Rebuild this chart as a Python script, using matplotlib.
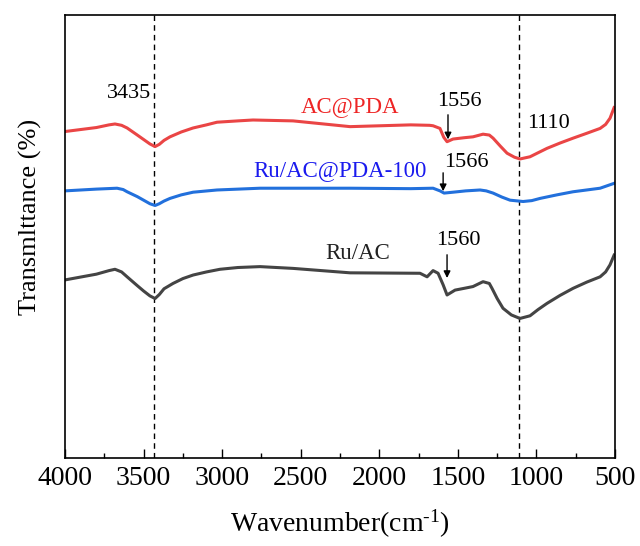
import numpy as np
import matplotlib
matplotlib.use("Agg")
import matplotlib.pyplot as plt
from matplotlib.ticker import MultipleLocator

plt.rcParams['font.family'] = 'serif'
plt.rcParams['font.serif'] = ['Liberation Serif', 'DejaVu Serif']
plt.rcParams['mathtext.fontset'] = 'custom'
plt.rcParams['mathtext.rm'] = 'Liberation Serif'
plt.rcParams['mathtext.it'] = 'Liberation Serif:italic'

# ---------- spectra (wavenumber, transmittance a.u.) ----------
wn_acpda = [4000, 3800, 3720, 3682, 3640, 3605, 3540, 3500, 3460, 3427, 3400, 3370,
            3332, 3260, 3185, 3100, 3033, 2900, 2804, 2549, 2186, 1800, 1680, 1658,
            1614, 1590, 1569, 1531, 1460, 1404, 1340, 1300, 1276, 1230, 1187, 1140,
            1105, 1041, 990, 933, 850, 767, 680, 595, 560, 532, 506]
t_acpda = [73.7, 74.6, 75.2, 75.4, 75.1, 74.5, 72.9, 71.9, 70.9, 70.3, 70.8, 71.7,
           72.5, 73.6, 74.5, 75.2, 75.8, 76.1, 76.3, 76.1, 74.8, 75.2, 75.1, 75.0,
           74.4, 72.4, 71.4, 72.0, 72.3, 72.5, 73.1, 72.9, 72.2, 70.4, 68.8, 67.9,
           67.5, 68.0, 68.9, 69.9, 71.1, 72.2, 73.3, 74.4, 75.3, 76.7, 79.1]

wn_ruacpda = [4000, 3800, 3669, 3630, 3605, 3540, 3500, 3460, 3427, 3400, 3370, 3332,
              3260, 3185, 3033, 2759, 2186, 1800, 1658, 1614, 1588, 1531, 1450, 1359,
              1320, 1276, 1220, 1168, 1085, 1030, 977, 870, 767, 595, 506]
t_ruacpda = [60.3, 60.7, 60.9, 60.6, 60.1, 59.0, 58.2, 57.4, 57.0, 57.4, 58.0, 58.6,
             59.4, 60.0, 60.5, 60.9, 60.9, 60.8, 60.9, 60.3, 59.8, 60.0, 60.3, 60.5,
             60.3, 59.8, 58.9, 58.2, 57.9, 58.1, 58.6, 59.4, 60.1, 60.9, 62.0]

wn_ruac = [4000, 3800, 3720, 3682, 3640, 3605, 3540, 3500, 3460, 3427, 3400, 3370,
           3313, 3250, 3185, 3100, 3014, 2900, 2759, 2549, 2186, 1741, 1696, 1658,
           1626, 1594, 1569, 1518, 1460, 1404, 1340, 1300, 1283, 1250, 1213, 1160,
           1105, 1041, 990, 933, 850, 767, 680, 595, 560, 532, 506]
t_ruac = [40.2, 41.5, 42.3, 42.6, 42.0, 40.9, 38.9, 37.7, 36.6, 36.0, 36.9, 38.2,
          39.4, 40.5, 41.3, 42.0, 42.6, 43.0, 43.2, 42.8, 41.8, 41.7, 40.9, 42.3,
          41.7, 39.1, 36.8, 37.9, 38.3, 38.7, 39.8, 39.4, 38.3, 36.0, 33.8, 32.3,
          31.5, 32.1, 33.5, 34.9, 36.7, 38.3, 39.7, 40.9, 42.0, 43.6, 45.8]

peak_lines = [3435, 1110]

fig = plt.figure(figsize=(6.4, 5.46), dpi=100)
ax = fig.add_axes([0.1016, 0.1612, 0.8594, 0.8113])

ax.plot(wn_acpda, t_acpda, color='#ea4545', lw=2.2, solid_joinstyle='round')
ax.plot(wn_ruacpda, t_ruacpda, color='#2270dc', lw=2.2, solid_joinstyle='round')
ax.plot(wn_ruac, t_ruac, color='#444444', lw=2.2, solid_joinstyle='round')

for w in peak_lines:
    ax.axvline(w, color='black', lw=1.0, ls=(0, (4, 3)), zorder=0)

ax.set_xlim(4000, 500)
ax.set_ylim(0, 100)
ax.xaxis.set_major_locator(MultipleLocator(500))
ax.xaxis.set_minor_locator(MultipleLocator(250))
ax.set_yticks([])
ax.tick_params(axis='x', which='major', direction='in', length=6.5, width=1.0,
               labelsize=20, pad=6)
ax.tick_params(axis='x', which='minor', direction='in', length=3.5, width=1.0)
for sp in ax.spines.values():
    sp.set_linewidth(1.2)

ax.set_xlabel(r'Wavenumber(cm$^{\text{-1}}$)', fontsize=20, labelpad=12)
ax.set_ylabel('Transmlttance (%)', fontsize=19)
ax.yaxis.set_label_coords(-0.042, 0.545)

# sample names
ax.text(2186, 79.3, 'AC@PDA', color='#ee2525', fontsize=16.5, ha='center', va='center')
ax.text(2250, 65.0, 'Ru/AC@PDA-100', color='#1a1aee', fontsize=16.5, ha='center', va='center')
ax.text(2135, 46.2, 'Ru/AC', color='#222222', fontsize=16.5, ha='center', va='center')

# band positions
ax.text(3590, 82.2, '3435', fontsize=16, ha='center', va='center')
ax.text(926, 75.6, '1110', fontsize=16, ha='center', va='center')
arrow = dict(arrowstyle='-|>', color='black', lw=1.0, mutation_scale=10)
ax.annotate('', xy=(1563, 71.3), xytext=(1563, 78.1), arrowprops=arrow)
ax.text(1490, 80.4, '1556', fontsize=16, ha='center', va='center')
ax.annotate('', xy=(1594, 59.6), xytext=(1594, 65.0), arrowprops=arrow)
ax.text(1445, 66.7, '1566', fontsize=16, ha='center', va='center')
ax.annotate('', xy=(1569, 40.0), xytext=(1569, 46.5), arrowprops=arrow)
ax.text(1496, 49.1, '1560', fontsize=16, ha='center', va='center')

fig.savefig('out.png', dpi=100)
